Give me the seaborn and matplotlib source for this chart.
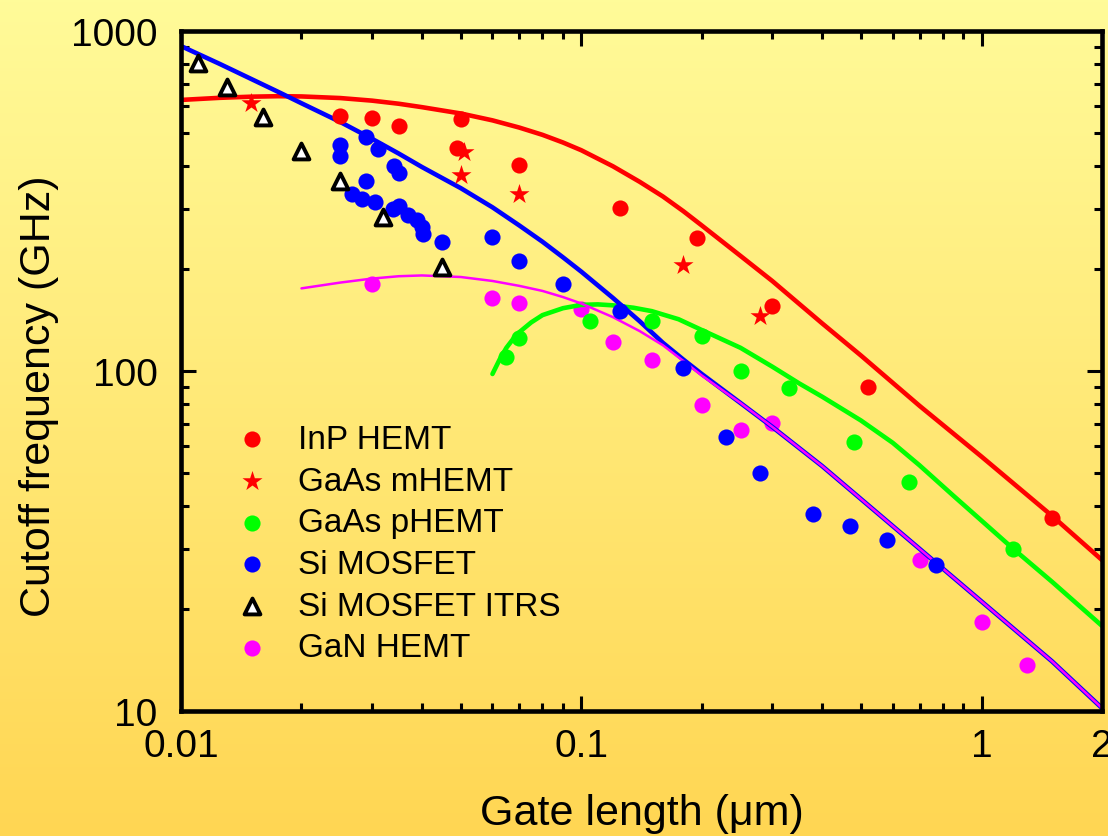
import numpy as np
import pandas as pd
import seaborn as sns
import matplotlib.pyplot as plt
from matplotlib.colors import LinearSegmentedColormap
from matplotlib.ticker import FixedLocator, NullFormatter

# measured devices (gate length in um, cutoff frequency in GHz)
inp_x = [0.025, 0.030, 0.035, 0.050, 0.049, 0.070, 0.125, 0.195, 0.30, 0.52, 1.5]
inp_y = [562, 555, 526, 551, 453, 403, 301, 246, 155, 90, 37]

mhemt_x = [0.015, 0.051, 0.050, 0.070, 0.180, 0.280]
mhemt_y = [614, 441, 377, 332, 205, 145]

phemt_x = [0.065, 0.070, 0.105, 0.150, 0.200, 0.250, 0.330, 0.480, 0.660, 1.200]
phemt_y = [110, 125, 140, 140, 127, 100, 89, 61.8, 47.2, 29.9]

mos_x = [0.025, 0.025, 0.029, 0.031, 0.034, 0.035, 0.029, 0.0268, 0.0283, 0.0306,
         0.0339, 0.0351, 0.0369, 0.0389, 0.040, 0.0402, 0.045, 0.060, 0.070, 0.090,
         0.125, 0.180, 0.230, 0.280, 0.380, 0.470, 0.580, 0.770]
mos_y = [462, 429, 488, 450, 401, 382, 362, 332, 321, 314,
         299, 305, 288, 278, 265, 253, 239, 248, 210, 180,
         150, 102, 64, 50, 38, 35, 31.8, 26.8]

itrs_x = [0.011, 0.013, 0.016, 0.020, 0.025, 0.032, 0.045]
itrs_y = [805, 684, 558, 444, 362, 284, 202]

gan_x = [0.030, 0.060, 0.070, 0.100, 0.120, 0.150, 0.200, 0.250, 0.300, 0.700, 1.000, 1.300]
gan_y = [180, 164, 158, 152, 122, 108, 79.4, 67, 70.3, 27.8, 18.3, 13.7]

# model curves
red_lx = [0.01, 0.0125, 0.015, 0.0175, 0.02, 0.025, 0.03, 0.035, 0.04, 0.05, 0.06, 0.07,
          0.08, 0.09, 0.1, 0.12, 0.14, 0.16, 0.18, 0.2, 0.25, 0.3, 0.4, 0.5, 0.7, 1, 1.5, 2]
red_ly = [627, 636, 641, 643, 642, 635, 624, 611, 597, 572, 546, 520,
          495, 470, 446, 400, 360, 326, 295, 268, 218, 184, 138, 111, 79, 56, 37.5, 27.8]

green_lx = [0.06, 0.0625, 0.065, 0.0675, 0.07, 0.075, 0.08, 0.09, 0.1, 0.11, 0.12, 0.135,
            0.15, 0.175, 0.2, 0.25, 0.3, 0.35, 0.4, 0.5, 0.6, 0.7, 0.85, 1, 1.2, 1.5, 2]
green_ly = [98, 108, 117, 124, 130, 139, 146, 153, 156.5, 157, 156, 153.5,
            150, 142, 132, 117, 103, 92, 84, 71.5, 61.5, 52.8, 43, 36.3, 30, 24, 17.8]

blue_lx = [0.01, 0.0125, 0.015, 0.0175, 0.02, 0.025, 0.03, 0.035, 0.04, 0.05, 0.06, 0.07,
           0.08, 0.09, 0.1, 0.12, 0.14, 0.16, 0.18, 0.2, 0.25, 0.3, 0.4, 0.5, 0.7, 1, 1.5, 2]
blue_ly = [903, 800, 722, 662, 613, 540, 482, 436, 398, 345, 303, 268,
           240, 216, 196, 164, 140, 121, 108, 98, 80.5, 68.5, 52.5, 42, 30, 21, 14, 10.2]

mag_lx = [0.02, 0.025, 0.03, 0.035, 0.04, 0.05, 0.06, 0.07, 0.08, 0.09, 0.1, 0.12, 0.14,
          0.16, 0.18, 0.2, 0.25, 0.3, 0.4, 0.5, 0.7, 1, 1.5, 2]
mag_ly = [175, 182, 187, 190, 191, 189, 184, 178, 172, 165, 158, 144, 131,
          119, 107, 97, 80.5, 68.5, 52.5, 42, 30, 21, 14, 10.2]

sns.set_style("ticks")
plt.rcParams['font.family'] = ['Liberation Sans', 'DejaVu Sans']
plt.rcParams['text.color'] = 'black'
plt.rcParams['axes.labelcolor'] = 'black'
plt.rcParams['xtick.color'] = 'black'
plt.rcParams['ytick.color'] = 'black'

fig = plt.figure(figsize=(11.08, 8.37), dpi=100)

# yellow gradient background
bg = fig.add_axes([0, 0, 1, 1], zorder=-10)
cmap = LinearSegmentedColormap.from_list("bg", ["#FFFB99", "#FFD653"])
bg.imshow(np.linspace(0, 1, 256).reshape(-1, 1), aspect='auto', cmap=cmap,
          extent=[0, 1, 0, 1])
bg.set_axis_off()

ax = fig.add_axes([181/1108, 1-712/837, (1102-181)/1108, (712-32)/837])
ax.set_facecolor('none')

lw = 3.3
sns.lineplot(x=red_lx, y=red_ly, ax=ax, color='#FF0000', lw=lw, sort=False, estimator=None, zorder=2)
sns.lineplot(x=green_lx, y=green_ly, ax=ax, color='#00FF00', lw=lw, sort=False, estimator=None, zorder=2)
sns.lineplot(x=blue_lx, y=blue_ly, ax=ax, color='#0000FF', lw=lw, sort=False, estimator=None, zorder=2)
sns.lineplot(x=mag_lx, y=mag_ly, ax=ax, color='#FF00FF', lw=1.8, sort=False, estimator=None, zorder=2.1)

dot = 135
sns.scatterplot(x=inp_x, y=inp_y, ax=ax, color='#FF0000', marker='o', s=dot, linewidth=0,
                label='InP HEMT', zorder=3)
sns.scatterplot(x=mhemt_x, y=mhemt_y, ax=ax, color='#FF0000', marker='*', s=230, linewidth=0,
                label='GaAs mHEMT', zorder=3)
sns.scatterplot(x=phemt_x, y=phemt_y, ax=ax, color='#00FF00', marker='o', s=dot, linewidth=0,
                label='GaAs pHEMT', zorder=3)
sns.scatterplot(x=mos_x, y=mos_y, ax=ax, color='#0000FF', marker='o', s=dot, linewidth=0,
                label='Si MOSFET', zorder=3)
sns.scatterplot(x=itrs_x, y=itrs_y, ax=ax, facecolor='white', edgecolor='black', marker='^',
                s=130, linewidth=2.8, label='Si MOSFET ITRS', zorder=3)
sns.scatterplot(x=gan_x, y=gan_y, ax=ax, color='#FF00FF', marker='o', s=dot, linewidth=0,
                label='GaN HEMT', zorder=1.9)

ax.set_xscale('log')
ax.set_yscale('log')
ax.set_xlim(0.01, 2)
ax.set_ylim(10, 1000)

ax.xaxis.set_major_locator(FixedLocator([0.01, 0.1, 1, 2]))
ax.set_xticklabels(['0.01', '0.1', '1', '2'])
xminor = [m * d for d in (0.01, 0.1) for m in range(2, 10)]
ax.xaxis.set_minor_locator(FixedLocator(xminor))
ax.xaxis.set_minor_formatter(NullFormatter())
ax.yaxis.set_major_locator(FixedLocator([10, 100, 1000]))
ax.set_yticklabels(['10', '100', '1000'])
yminor = [m * d for d in (10, 100) for m in range(2, 10)]
ax.yaxis.set_minor_locator(FixedLocator(yminor))
ax.yaxis.set_minor_formatter(NullFormatter())

ax.tick_params(which='both', direction='in', top=True, right=True, color='black', width=2.2)
ax.tick_params(which='major', length=11, labelsize=28)
ax.tick_params(axis='x', which='major', pad=12)
ax.tick_params(axis='y', which='major', pad=17)
ax.tick_params(which='minor', length=6)
# the "2" tick sits on the right spine: hide its mark
ax.xaxis.get_major_ticks()[3].tick1line.set_visible(False)
ax.xaxis.get_major_ticks()[3].tick2line.set_visible(False)

for sp in ax.spines.values():
    sp.set_linewidth(3.3)
    sp.set_color('black')

ax.set_xlabel('Gate length (μm)', fontsize=31, labelpad=21)
ax.set_ylabel('Cutoff frequency (GHz)', fontsize=31)
ax.yaxis.set_label_coords(-0.133, 0.465)

ax.legend(loc='upper left', bbox_to_anchor=(235/1108, 1-425/837), bbox_transform=fig.transFigure,
          frameon=False, fontsize=24, handlelength=1.0, handletextpad=0.9,
          labelspacing=0.32, borderpad=0, borderaxespad=0)

fig.savefig('out.png', dpi=100)
